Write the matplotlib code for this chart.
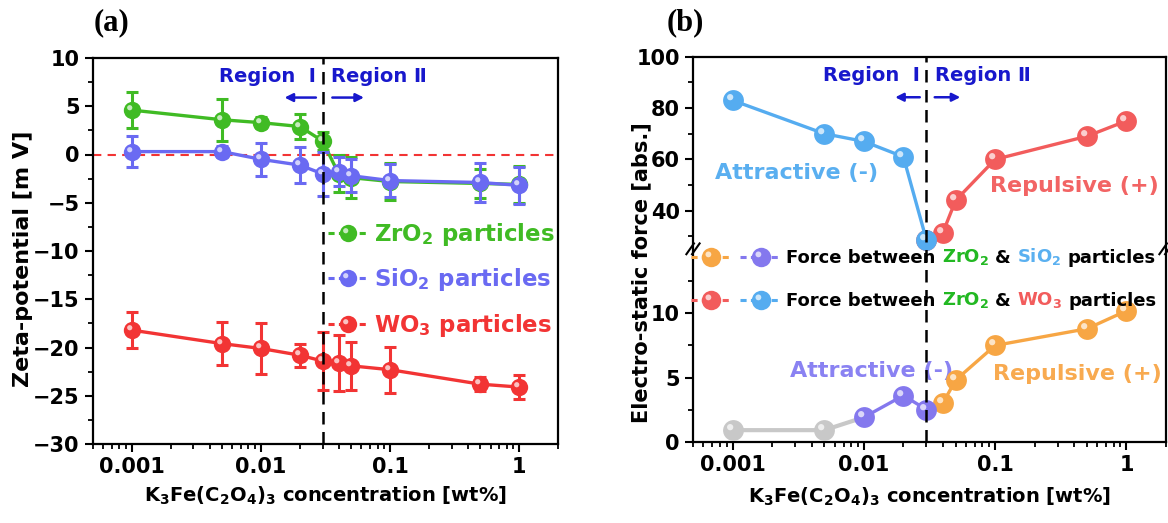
import numpy as np
import matplotlib
matplotlib.use("Agg")
import matplotlib.pyplot as plt
from matplotlib.path import Path
from matplotlib.lines import Line2D
from matplotlib.legend_handler import HandlerTuple
from matplotlib.ticker import FixedLocator, LogLocator, MultipleLocator, NullFormatter, FixedFormatter

plt.rcParams['font.family'] = ['DejaVu Sans']
plt.rcParams['font.weight'] = 'bold'
plt.rcParams['axes.labelweight'] = 'bold'
plt.rcParams['mathtext.default'] = 'regular'

# ---------------- data ----------------
conc = [0.001, 0.005, 0.01, 0.02, 0.03, 0.04, 0.05, 0.1, 0.5, 1]
zro2 = [4.6, 3.6, 3.3, 2.9, 1.4, -2.0, -2.4, -2.8, -3.0, -3.1]
zro2_err = [1.9, 2.2, 0.6, 1.3, 0.9, 1.9, 2.1, 1.9, 1.5, 1.9]
sio2 = [0.3, 0.3, -0.5, -1.1, -2.0, -1.8, -2.2, -2.7, -2.9, -3.2]
sio2_err = [1.6, 0.6, 1.7, 1.9, 2.3, 1.5, 1.7, 1.7, 2.0, 1.9]
wo3 = [-18.2, -19.6, -20.1, -20.8, -21.4, -21.6, -21.9, -22.3, -23.8, -24.1]
wo3_err = [1.9, 2.2, 2.6, 1.2, 3.0, 2.9, 2.5, 2.4, 0.7, 1.2]

# panel (b): ZrO2-WO3 force
att_wo3_x = [0.001, 0.005, 0.01, 0.02, 0.03]
att_wo3_y = [83, 70, 67, 61, 28.5]
rep_wo3_x = [0.03, 0.04, 0.05, 0.1, 0.5, 1]
rep_wo3_y = [28.5, 31.5, 44, 60, 69, 75]
# panel (b): ZrO2-SiO2 force
neu_sio2_x = [0.001, 0.005]
neu_sio2_y = [0.9, 0.9]
att_sio2_x = [0.01, 0.02, 0.03]
att_sio2_y = [1.9, 3.6, 2.5]
rep_sio2_x = [0.04, 0.05, 0.1, 0.5, 1]
rep_sio2_y = [3.0, 4.8, 7.5, 8.8, 10.2]

boundary = 0.03
xticks = [0.001, 0.01, 0.1, 1]
xticklabels = ['0.001', '0.01', '0.1', '1']

# ---------------- colours ----------------
C_ZR = '#40bb24'
C_SI = '#6a6af2'
C_WO = '#f23434'
C_B_BLUE = '#55acf0'
C_B_RED = '#f25c5c'
C_B_GRAY = '#c8c8c8'
C_B_PUR = '#8478ee'
C_B_OR = '#f7a644'
C_REGION = '#1818cc'

# highlight marker (offset small circle) for a sphere look
_c = Path.circle((-0.32, 0.32), 0.30)
HL = Path(np.vstack([_c.vertices, [[1.0, -1.0]]]), np.append(_c.codes, Path.MOVETO))


def balls(ax, x, y, color, ms, z):
    ax.plot(x, y, ls='none', marker='o', color=color, ms=ms, mec='none', zorder=z, clip_on=False)
    ax.plot(x, y, ls='none', marker=HL, color='white', alpha=0.7, ms=ms, mec='none', zorder=z + 0.1,
            clip_on=False)


def handle(color, ms, lw):
    a = Line2D([], [], color=color, ls=(0, (2.0, 1.4)), lw=lw, marker='o', ms=ms, mec='none')
    b = Line2D([], [], ls='none', marker=HL, color='white', alpha=0.7, ms=ms, mec='none')
    return (a, b)


class Pair(tuple):
    pass


def style_axes(ax):
    for s in ax.spines.values():
        s.set_linewidth(1.6)
    ax.tick_params(which='major', direction='out', length=6, width=1.5, labelsize=15,
                   top=False, right=False)
    ax.tick_params(which='minor', direction='out', length=3.5, width=1.3, top=False, right=False)
    ax.set_xscale('log')
    ax.set_xlim(0.0005, 2)
    ax.xaxis.set_major_locator(FixedLocator(xticks))
    ax.xaxis.set_major_formatter(FixedFormatter(xticklabels))
    ax.xaxis.set_minor_locator(LogLocator(base=10, subs=np.arange(2, 10), numticks=20))
    ax.xaxis.set_minor_formatter(NullFormatter())


fig = plt.figure(figsize=(11.68, 5.23), dpi=100)
W, H = 1168.0, 523.0

# =================== panel (a) ===================
ax = fig.add_axes([93 / W, 79 / H, 465 / W, 386 / H])
style_axes(ax)
ax.set_ylim(-30, 10)
ax.yaxis.set_major_locator(MultipleLocator(5))
ax.yaxis.set_minor_locator(MultipleLocator(2.5))

ax.axhline(0, color=C_WO, ls=(0, (4, 3)), lw=1.5, zorder=1)
ax.axvline(boundary, color='k', ls=(0, (5, 3)), lw=1.8, zorder=6)

for y, e, c, z in [(wo3, wo3_err, C_WO, 3), (zro2, zro2_err, C_ZR, 3), (sio2, sio2_err, C_SI, 4)]:
    ax.errorbar(conc, y, yerr=e, color=c, lw=2.4, elinewidth=2.2, capsize=4, capthick=2.2,
                zorder=z, clip_on=False)
    balls(ax, conc, y, c, 12.5, z + 0.2)

ax.set_ylabel('Zeta-potential [m V]', fontsize=16)
ax.set_xlabel(r'K$_3$Fe(C$_2$O$_4$)$_3$ concentration [wt%]', fontsize=14)
ax.yaxis.set_label_coords(-0.13, 0.48)
ax.xaxis.set_label_coords(0.5, -0.105)

# region annotations
ax.annotate('Region  \u2160', xy=(boundary, 8.1), xytext=(-5, 0), textcoords='offset points',
            ha='right', va='center', color=C_REGION, fontsize=14)
ax.annotate('Region \u2161', xy=(boundary, 8.1), xytext=(6, 0), textcoords='offset points',
            ha='left', va='center', color=C_REGION, fontsize=14)
ax.annotate('', xy=(0.0145, 5.9), xytext=(0.028, 5.9),
            arrowprops=dict(arrowstyle='-|>', color=C_REGION, lw=1.8, mutation_scale=12))
ax.annotate('', xy=(0.066, 5.9), xytext=(0.034, 5.9),
            arrowprops=dict(arrowstyle='-|>', color=C_REGION, lw=1.8, mutation_scale=12))

leg = ax.legend([handle(C_ZR, 12.5, 2.2), handle(C_SI, 12.5, 2.2), handle(C_WO, 12.5, 2.2)],
                ['ZrO$_2$ particles', 'SiO$_2$ particles', 'WO$_3$ particles'],
                loc='upper left', bbox_to_anchor=(0.505, 0.578), frameon=False, fontsize=16.5,
                handlelength=1.75, handletextpad=0.25, labelspacing=0.8, borderpad=0,
                borderaxespad=0, numpoints=1)
for t, c in zip(leg.get_texts(), [C_ZR, C_SI, C_WO]):
    t.set_color(c)

fig.text(94 / W, 1 - 23 / H, '(a)', fontsize=22, family='Liberation Serif', weight='bold',
         va='center', ha='left')

# =================== panel (b) ===================
LOW_TOP, UP_BOT, UP_SCALE, GAP = 15.0, 25.0, 0.2, 0.001


def fwd(y):
    y = np.asarray(y, dtype=float)
    return np.where(y <= LOW_TOP, y,
                    np.where(y >= UP_BOT, LOW_TOP + GAP + (y - UP_BOT) * UP_SCALE,
                             LOW_TOP + (y - LOW_TOP) * GAP / (UP_BOT - LOW_TOP)))


def inv(t):
    t = np.asarray(t, dtype=float)
    return np.where(t <= LOW_TOP, t,
                    np.where(t >= LOW_TOP + GAP, UP_BOT + (t - LOW_TOP - GAP) / UP_SCALE,
                             LOW_TOP + (t - LOW_TOP) * (UP_BOT - LOW_TOP) / GAP))


bx = fig.add_axes([693 / W, (H - 441.7) / H, 473 / W, 385 / H])
style_axes(bx)
bx.set_yscale('function', functions=(fwd, inv))
bx.set_ylim(0, 100)
bx.yaxis.set_major_locator(FixedLocator([0, 5, 10, 40, 60, 80, 100]))
bx.yaxis.set_major_formatter(FixedFormatter(['0', '5', '10', '40', '60', '80', '100']))
bx.yaxis.set_minor_locator(FixedLocator([2.5, 7.5, 12.5, 30, 50, 70, 90]))
bx.yaxis.set_minor_formatter(NullFormatter())

bx.axvline(boundary, color='k', ls=(0, (5, 3)), lw=1.8, zorder=6)

# break marks on both spines
for xa in (0.0, 1.0):
    for dx in (-0.006, 0.006):
        bx.plot([xa + dx - 0.008, xa + dx + 0.008], [0.487, 0.515], transform=bx.transAxes,
                color='k', lw=1.5, clip_on=False, zorder=10)

MSB = 15
# upper: ZrO2 - WO3
bx.plot(rep_wo3_x, rep_wo3_y, color=C_B_RED, lw=2.4, zorder=3)
balls(bx, rep_wo3_x, rep_wo3_y, C_B_RED, MSB, 3.2)
bx.plot(att_wo3_x, att_wo3_y, color=C_B_BLUE, lw=2.4, zorder=4)
balls(bx, att_wo3_x, att_wo3_y, C_B_BLUE, MSB, 4.2)
# lower: ZrO2 - SiO2
bx.plot(neu_sio2_x + att_sio2_x[:1], neu_sio2_y + att_sio2_y[:1], color=C_B_GRAY, lw=3, zorder=3)
balls(bx, neu_sio2_x, neu_sio2_y, C_B_GRAY, MSB, 3.2)
bx.plot(att_sio2_x[-1:] + rep_sio2_x, att_sio2_y[-1:] + rep_sio2_y, color=C_B_OR, lw=2.4, zorder=3)
balls(bx, rep_sio2_x, rep_sio2_y, C_B_OR, MSB, 3.2)
bx.plot(att_sio2_x, att_sio2_y, color=C_B_PUR, lw=2.4, zorder=4)
balls(bx, att_sio2_x, att_sio2_y, C_B_PUR, MSB, 4.2)

bx.text(0.0031, 54.8, 'Attractive (-)', color='#5aaff0', fontsize=16, ha='center', va='center')
bx.text(0.40, 49.5, 'Repulsive (+)', color='#f26464', fontsize=16, ha='center', va='center')
bx.text(0.0115, 5.5, 'Attractive (-)', color='#8a82f2', fontsize=16, ha='center', va='center')
bx.text(0.42, 5.3, 'Repulsive (+)', color='#f8aa50', fontsize=16, ha='center', va='center')

bx.annotate('Region  \u2160', xy=(boundary, 92.8), xytext=(-5, 0), textcoords='offset points',
            ha='right', va='center', color=C_REGION, fontsize=14)
bx.annotate('Region \u2161', xy=(boundary, 92.8), xytext=(6, 0), textcoords='offset points',
            ha='left', va='center', color=C_REGION, fontsize=14)
bx.annotate('', xy=(0.0165, 84.2), xytext=(0.028, 84.2),
            arrowprops=dict(arrowstyle='-|>', color=C_REGION, lw=1.8, mutation_scale=12))
bx.annotate('', xy=(0.057, 84.2), xytext=(0.033, 84.2),
            arrowprops=dict(arrowstyle='-|>', color=C_REGION, lw=1.8, mutation_scale=12))

bx.set_ylabel('Electro-static force [abs.]', fontsize=15)
bx.set_xlabel(r'K$_3$Fe(C$_2$O$_4$)$_3$ concentration [wt%]', fontsize=14)
bx.yaxis.set_label_coords(-0.088, 0.44)
bx.xaxis.set_label_coords(0.5, -0.113)

h1 = Pair((handle(C_B_OR, 14, 2.2), handle(C_B_PUR, 14, 2.2)))
h2 = Pair((handle(C_B_RED, 14, 2.2), handle(C_B_BLUE, 14, 2.2)))
leg2 = bx.legend([h1, h2], ['Force between', 'Force between'],
                 handler_map={Pair: HandlerTuple(ndivide=None, pad=0.5)},
                 loc='upper left', bbox_to_anchor=(-0.005, 0.50), frameon=False, fontsize=13,
                 handlelength=5.0, handletextpad=0.3, labelspacing=1.4, borderpad=0,
                 borderaxespad=0, numpoints=1)
leg2.set_zorder(8)

pieces = [
    [('ZrO$_2$', '#22b822'), ('&', 'black'), ('SiO$_2$', '#5ab0f0'), ('particles', 'black')],
    [('ZrO$_2$', '#22b822'), ('&', 'black'), ('WO$_3$', '#f25c5c'), ('particles', 'black')],
]
for lt, row in zip(leg2.get_texts(), pieces):
    prev = lt
    for s, c in row:
        prev = bx.annotate(s, xy=(1, 0), xycoords=(prev, lt), xytext=(4.5, 0),
                           textcoords='offset points', ha='left', va='bottom', color=c,
                           fontsize=13, annotation_clip=False, zorder=9)

fig.text(667 / W, 1 - 23 / H, '(b)', fontsize=22, family='Liberation Serif', weight='bold',
         va='center', ha='left')

fig.savefig('out.png', dpi=100)
